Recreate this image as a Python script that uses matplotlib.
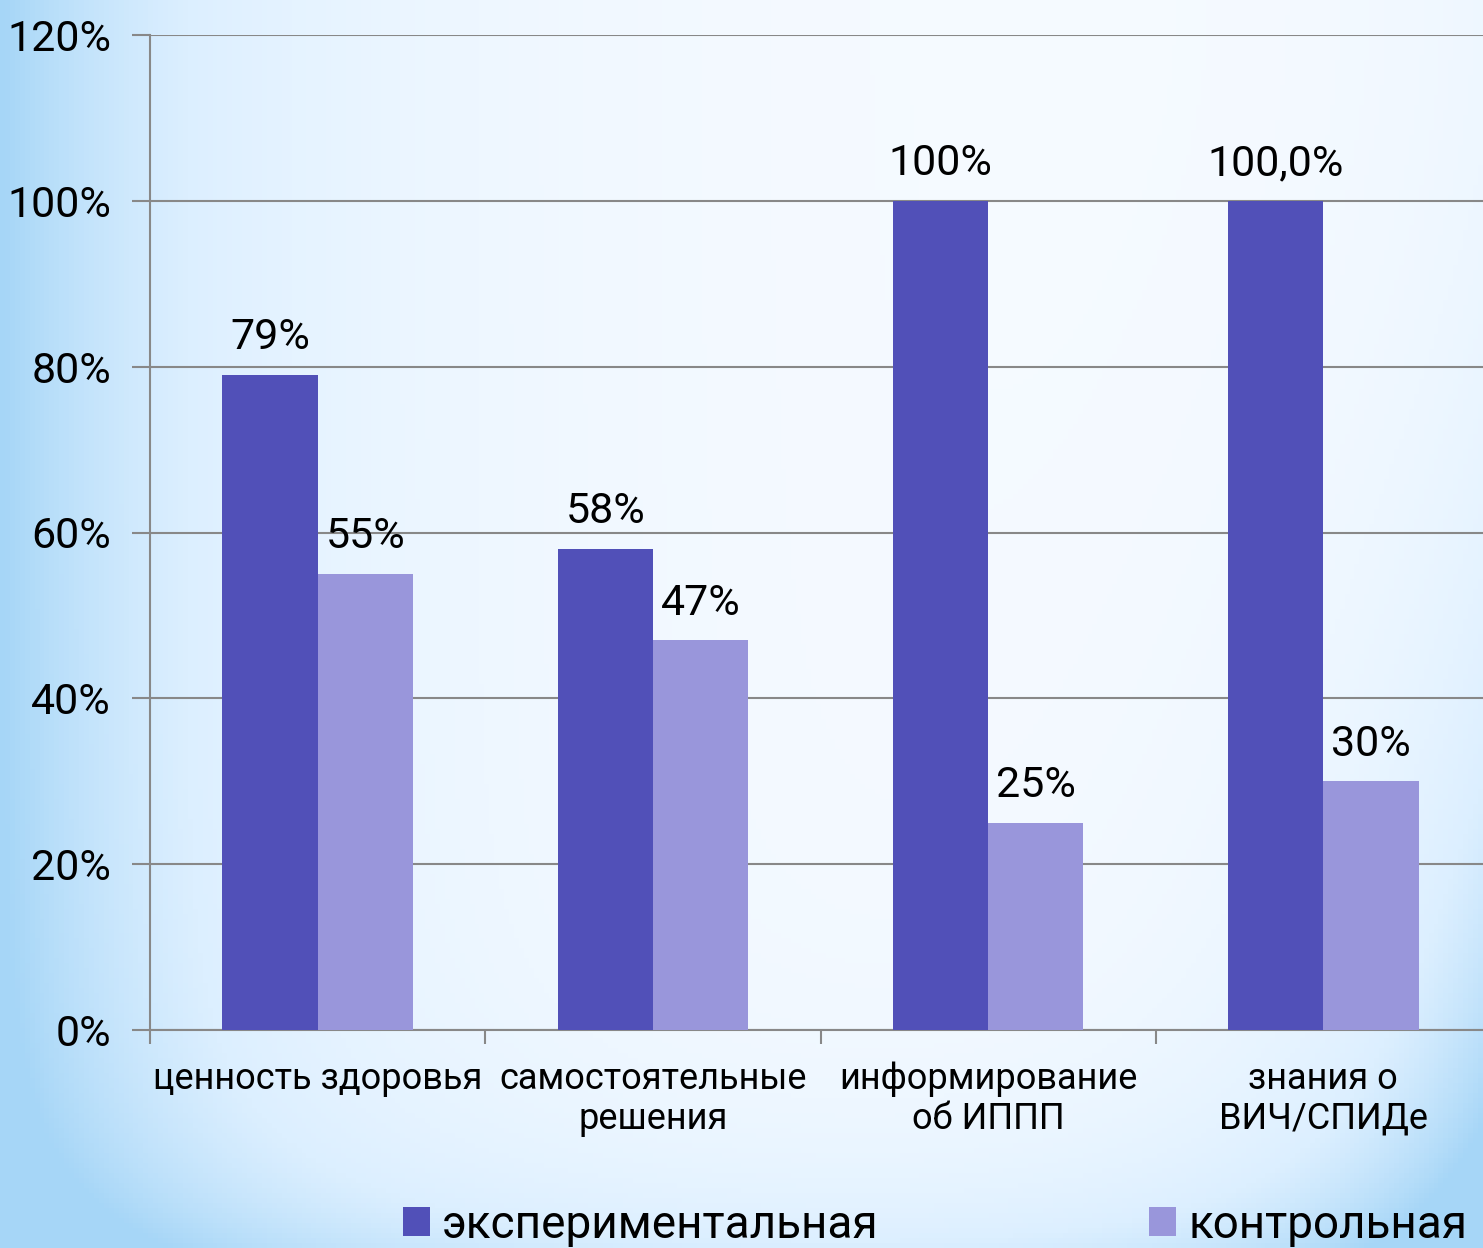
import numpy as np
import matplotlib
matplotlib.use('Agg')
import matplotlib.pyplot as plt
from matplotlib.colors import LinearSegmentedColormap

# Данные
categories = ['ценность здоровья', 'самостоятельные\nрешения', 'информирование\nоб ИППП', 'знания о\nВИЧ/СПИДе']
exp_values = [79, 58, 100, 100]
ctrl_values = [55, 47, 25, 30]
exp_labels = ['79%', '58%', '100%', '100,0%']
ctrl_labels = ['55%', '47%', '25%', '30%']
series_names = ['экспериментальная', 'контрольная']
y_ticks = [0, 20, 40, 60, 80, 100, 120]

plt.rcParams['font.family'] = ['Roboto', 'DejaVu Sans']

W, H = 1483, 1248
fig = plt.figure(figsize=(W / 100, H / 100), dpi=100)

# Фон с градиентом
bg = fig.add_axes([0, 0, 1, 1], zorder=0)
bg.axis('off')
xx = np.linspace(0, 1, 300)
yy = np.linspace(0, 1, 250)
X, Y = np.meshgrid(xx, yy)
left = np.exp(-X / 0.18)
right = np.exp(-(1 - X) / 0.12) * (0.15 + 0.85 * Y ** 2)
bottom = np.exp(-(1 - Y) / 0.08) * 0.45
t = np.clip(left + right + bottom, 0, 1)
cmap = LinearSegmentedColormap.from_list('bg', ['#f7fbff', '#dcefff', '#a6d6f7'])
bg.imshow(t, cmap=cmap, aspect='auto', extent=[0, 1, 0, 1], origin='upper', vmin=0, vmax=1)
bg.set_xlim(0, 1)
bg.set_ylim(0, 1)

# Основной график
ax = fig.add_axes([150 / W, 1 - 1030 / H, 1341 / W, 995 / H], zorder=1)
ax.patch.set_alpha(0)

x = np.arange(len(categories))
w = 0.284
dark = '#5150b8'
light = '#9996db'
b1 = ax.bar(x - w / 2, exp_values, w, color=dark, label=series_names[0], zorder=3)
b2 = ax.bar(x + w / 2, ctrl_values, w, color=light, label=series_names[1], zorder=3)

for bars, labs in ((b1, exp_labels), (b2, ctrl_labels)):
    for b, lab in zip(bars, labs):
        ax.text(b.get_x() + b.get_width() / 2, b.get_height() + 2.0, lab,
                ha='center', va='bottom', fontsize=31)

ax.set_xlim(-0.5, len(categories) - 0.5)
ax.set_ylim(0, 120)
ax.set_yticks(y_ticks)
ax.set_yticklabels([f'{v}%' for v in y_ticks], fontsize=31)
ax.set_xticks(np.arange(len(categories) + 1) - 0.5)
ax.set_xticklabels([])
ax.set_xticks(x, minor=True)
ax.set_xticklabels(categories, minor=True, fontsize=26, linespacing=1.15)
ax.tick_params(axis='x', which='minor', length=0, pad=22)
ax.tick_params(axis='x', which='major', length=10, width=1.5, color='#888888', direction='out')
ax.tick_params(axis='y', length=13, width=1.5, color='#888888', pad=15)
ax.grid(axis='y', color='#888888', linewidth=1.5, zorder=1)
for s in ['top', 'right']:
    ax.spines[s].set_visible(False)
for s in ['left', 'bottom']:
    ax.spines[s].set_color('#888888')
    ax.spines[s].set_linewidth(1.5)

fig.legend(handles=[b1, b2], labels=series_names, loc='lower left',
           bbox_to_anchor=(362 / W, -40 / H), ncol=2, frameon=False, fontsize=33,
           handlelength=0.58, handleheight=0.58, handletextpad=0.27, columnspacing=5.9)

fig.text(1476 / W, 1 - 30 / H, '1', fontsize=32, ha='left', va='bottom')

fig.savefig('out.png', dpi=100)
